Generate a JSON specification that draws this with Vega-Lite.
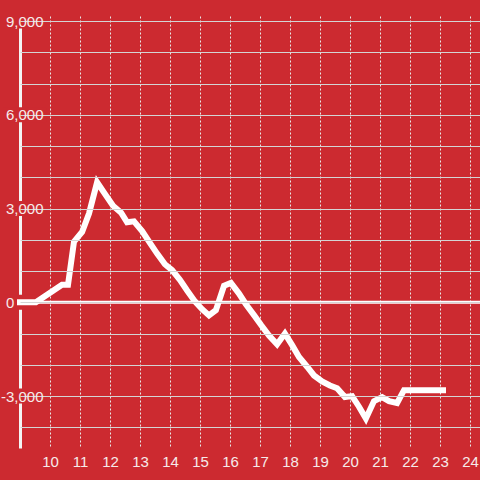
{
  "$schema": "https://vega.github.io/schema/vega-lite/v6.json",
  "width": 460,
  "height": 432,
  "autosize": "none",
  "padding": {"left": 20, "top": 16, "right": 0, "bottom": 32},
  "background": "#cc2a30",
  "config": {
    "view": {"stroke": null},
    "font": "Liberation Sans"
  },
  "datasets": {
    "series": [
      {"t": 9.0, "v": 0},
      {"t": 9.53, "v": 0},
      {"t": 10.4, "v": 560},
      {"t": 10.6, "v": 560},
      {"t": 10.8, "v": 1940},
      {"t": 11.07, "v": 2250},
      {"t": 11.3, "v": 2840},
      {"t": 11.57, "v": 3840},
      {"t": 11.83, "v": 3470},
      {"t": 12.1, "v": 3090},
      {"t": 12.37, "v": 2870},
      {"t": 12.57, "v": 2560},
      {"t": 12.8, "v": 2590},
      {"t": 13.07, "v": 2280},
      {"t": 13.33, "v": 1900},
      {"t": 13.57, "v": 1560},
      {"t": 13.83, "v": 1220},
      {"t": 14.07, "v": 1030},
      {"t": 14.33, "v": 720},
      {"t": 14.57, "v": 380},
      {"t": 14.83, "v": 30},
      {"t": 15.07, "v": -220},
      {"t": 15.3, "v": -420},
      {"t": 15.53, "v": -250},
      {"t": 15.8, "v": 530},
      {"t": 16.03, "v": 620},
      {"t": 16.3, "v": 280},
      {"t": 16.53, "v": -60},
      {"t": 16.8, "v": -410},
      {"t": 17.03, "v": -720},
      {"t": 17.3, "v": -1060},
      {"t": 17.57, "v": -1340},
      {"t": 17.83, "v": -1000},
      {"t": 18.07, "v": -1370},
      {"t": 18.3, "v": -1750},
      {"t": 18.57, "v": -2060},
      {"t": 18.8, "v": -2340},
      {"t": 19.07, "v": -2530},
      {"t": 19.33, "v": -2660},
      {"t": 19.57, "v": -2750},
      {"t": 19.83, "v": -3030},
      {"t": 20.07, "v": -3000},
      {"t": 20.3, "v": -3340},
      {"t": 20.53, "v": -3720},
      {"t": 20.8, "v": -3160},
      {"t": 21.07, "v": -3030},
      {"t": 21.3, "v": -3160},
      {"t": 21.57, "v": -3220},
      {"t": 21.8, "v": -2810},
      {"t": 22.03, "v": -2810},
      {"t": 23.1, "v": -2810}
    ],
    "labels": [
      {"v": 9000}, {"v": 6000}, {"v": 3000}, {"v": 0}, {"v": -3000}
    ]
  },
  "layer": [
    {
      "data": {"name": "labels"},
      "mark": {"type": "bar", "orient": "horizontal", "height": 15, "color": "#cc2a30", "opacity": 1},
      "encoding": {
        "x": {
          "datum": 8.45, "type": "quantitative",
          "scale": {"domain": [9, 24.333], "nice": false, "zero": false},
          "axis": {
            "values": [9, 10, 11, 12, 13, 14, 15, 16, 17, 18, 19, 20, 21, 22, 23, 24],
            "title": null, "domain": false, "ticks": false,
            "labelExpr": "datum.value === 9 ? '' : format(datum.value, 'd')",
            "labelFontSize": 15, "labelColor": "#f6eaea", "labelPadding": 6, "labelFlush": false,
            "grid": true,
            "gridColor": {"condition": {"test": "datum.value === 9", "value": "#f4f4f4"}, "value": "#e8e8e8"},
            "gridDash": {"condition": {"test": "datum.value === 9", "value": []}, "value": [2, 2]},
            "gridWidth": {"condition": {"test": "datum.value === 9", "value": 3}, "value": 1}
          }
        },
        "x2": {"datum": 9.867},
        "y": {
          "field": "v", "type": "quantitative",
          "scale": {"domain": [-4500, 9000], "nice": false, "zero": false},
          "axis": {
            "values": [-4000, -3000, -2000, -1000, 0, 1000, 2000, 3000, 4000, 5000, 6000, 7000, 8000, 9000],
            "title": null, "domain": false, "ticks": false,
            "labelExpr": "datum.value === 0 ? '0\u00a0\u00a0\u00a0\u00a0\u00a0\u00a0\u00a0\u200b' : (datum.value % 3000 === 0 ? (datum.value < 0 ? '-' + format(-datum.value, ',') : format(datum.value, ',')) : '')",
            "labelFontSize": 15, "labelColor": "#f6eaea", "labelAlign": "right", "labelBaseline": "middle",
            "labelPadding": -23, "labelFlush": false,
            "grid": true, "gridColor": "#d4d4d4", "gridWidth": 1, "zindex": 1
          }
        }
      }
    },
    {
      "data": {"values": [{}]},
      "mark": {"type": "rule", "color": "#ffffff", "strokeWidth": 3},
      "encoding": {
        "y": {
          "datum": 0, "type": "quantitative",
          "scale": {"domain": [-4500, 9000], "nice": false, "zero": false},
          "axis": {
            "values": [-4000, -3000, -2000, -1000, 0, 1000, 2000, 3000, 4000, 5000, 6000, 7000, 8000, 9000],
            "title": null, "domain": false, "ticks": false,
            "labelExpr": "datum.value === 0 ? '0\u00a0\u00a0\u00a0\u00a0\u00a0\u00a0\u00a0\u200b' : (datum.value % 3000 === 0 ? (datum.value < 0 ? '-' + format(-datum.value, ',') : format(datum.value, ',')) : '')",
            "labelFontSize": 15, "labelColor": "#f6eaea", "labelAlign": "right", "labelBaseline": "middle",
            "labelPadding": -23, "labelFlush": false,
            "grid": true, "gridColor": "#d4d4d4", "gridWidth": 1, "zindex": 1
          }
        },
        "x": {
          "datum": 8.9, "type": "quantitative",
          "scale": {"domain": [9, 24.333], "nice": false, "zero": false},
          "axis": {
            "values": [9, 10, 11, 12, 13, 14, 15, 16, 17, 18, 19, 20, 21, 22, 23, 24],
            "title": null, "domain": false, "ticks": false,
            "labelExpr": "datum.value === 9 ? '' : format(datum.value, 'd')",
            "labelFontSize": 15, "labelColor": "#f6eaea", "labelPadding": 6, "labelFlush": false,
            "grid": true,
            "gridColor": {"condition": {"test": "datum.value === 9", "value": "#f4f4f4"}, "value": "#e8e8e8"},
            "gridDash": {"condition": {"test": "datum.value === 9", "value": []}, "value": [2, 2]},
            "gridWidth": {"condition": {"test": "datum.value === 9", "value": 3}, "value": 1}
          }
        },
        "x2": {"datum": 24.333}
      }
    },
    {
      "data": {"name": "series"},
      "mark": {"type": "line", "color": "#ffffff", "strokeWidth": 6, "strokeCap": "square", "strokeJoin": "miter"},
      "encoding": {
        "x": {
          "field": "t", "type": "quantitative",
          "scale": {"domain": [9, 24.333], "nice": false, "zero": false},
          "axis": {
            "values": [9, 10, 11, 12, 13, 14, 15, 16, 17, 18, 19, 20, 21, 22, 23, 24],
            "title": null, "domain": false, "ticks": false,
            "labelExpr": "datum.value === 9 ? '' : format(datum.value, 'd')",
            "labelFontSize": 15, "labelColor": "#f6eaea", "labelPadding": 6, "labelFlush": false,
            "grid": true,
            "gridColor": {"condition": {"test": "datum.value === 9", "value": "#f4f4f4"}, "value": "#e8e8e8"},
            "gridDash": {"condition": {"test": "datum.value === 9", "value": []}, "value": [2, 2]},
            "gridWidth": {"condition": {"test": "datum.value === 9", "value": 3}, "value": 1}
          }
        },
        "y": {
          "field": "v", "type": "quantitative",
          "scale": {"domain": [-4500, 9000], "nice": false, "zero": false},
          "axis": {
            "values": [-4000, -3000, -2000, -1000, 0, 1000, 2000, 3000, 4000, 5000, 6000, 7000, 8000, 9000],
            "title": null, "domain": false, "ticks": false,
            "labelExpr": "datum.value === 0 ? '0\u00a0\u00a0\u00a0\u00a0\u00a0\u00a0\u00a0\u200b' : (datum.value % 3000 === 0 ? (datum.value < 0 ? '-' + format(-datum.value, ',') : format(datum.value, ',')) : '')",
            "labelFontSize": 15, "labelColor": "#f6eaea", "labelAlign": "right", "labelBaseline": "middle",
            "labelPadding": -23, "labelFlush": false,
            "grid": true, "gridColor": "#d4d4d4", "gridWidth": 1, "zindex": 1
          }
        }
      }
    }
  ]
}
